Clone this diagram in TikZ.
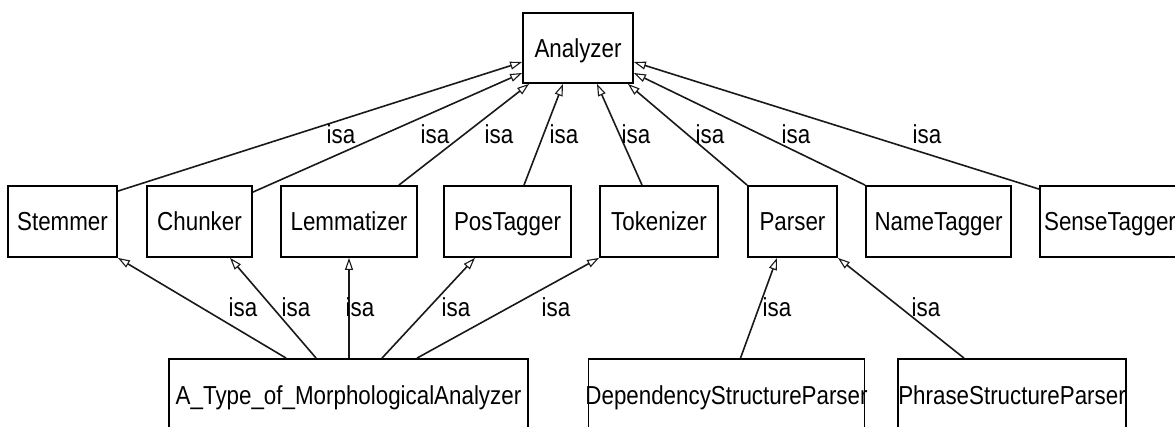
\documentclass[tikz,border=0pt]{standalone}
\usepackage{fontspec}
\setmainfont[FakeStretch=0.86]{Liberation Sans}
\usetikzlibrary{arrows.meta}

\tikzset{
  cls/.style={draw=black, line width=1.8pt, inner sep=0pt, minimum height=71pt,
              text height=19pt, text depth=0pt, font=\fontsize{26}{30}\selectfont},
  isa/.style={draw=black!90, line width=1.6pt,
              -{Triangle[open, length=12pt, width=8pt, line width=1.1pt]}},
  lbl/.style={anchor=base, inner sep=0pt, font=\fontsize{26}{30}\selectfont},
}
\newcommand{\wide}[1]{\makebox[0pt]{#1}}

\begin{document}
\begin{tikzpicture}[x=1pt, y=-1pt]
  \useasboundingbox (0,0) rectangle (1175,427);
  \clip (0,0) rectangle (1175,427);

  % root class
  \node[cls, minimum width=110pt, minimum height=70pt] (an) at (578,48) {Analyzer};

  % direct subclasses
  \node[cls, minimum width=109pt] (stem)   at (62.5,221.5)  {Stemmer};
  \node[cls, minimum width=105pt] (chunk)  at (199.5,221.5) {Chunker};
  \node[cls, minimum width=136pt] (lemma)  at (349,221.5)   {Lemmatizer};
  \node[cls, minimum width=127pt] (pos)    at (507.5,221.5) {PosTagger};
  \node[cls, minimum width=118pt] (tok)    at (659,221.5)   {Tokenizer};
  \node[cls, minimum width=89pt]  (parser) at (792.5,221.5) {Parser};
  \node[cls, minimum width=145pt] (name)   at (938.5,221.5) {NameTagger};
  \node[cls, minimum width=140pt] (sense)  at (1110,221.5)  {\wide{SenseTagger}};

  % second-level subclasses
  \node[cls, minimum width=359pt] (morph)  at (348.5,394.5) {\wide{A\_Type\_of\_MorphologicalAnalyzer}};
  \node[cls, minimum width=276pt] (dep)    at (726.5,394.5) {\wide{DependencyStructureParser}};
  \node[cls, minimum width=228pt] (phrase) at (1012,394.5)  {\wide{PhraseStructureParser}};

  % isa links to Analyzer
  \draw[isa] ([yshift=-6pt]stem.north east)  -- ([yshift=-14pt]an.west);
  \draw[isa] ([yshift=-7pt]chunk.north east) -- ([yshift=-25pt]an.west);
  \draw[isa] ([xshift=-19pt]lemma.north east) -- ([xshift=7pt]an.south west);
  \draw[isa] ([xshift=16.5pt]pos.north)      -- ([xshift=-15pt]an.south);
  \draw[isa] ([xshift=-17pt]tok.north)       -- ([xshift=19pt]an.south);
  \draw[isa] (parser.north west)             -- ([xshift=-6pt]an.south east);
  \draw[isa] (name.north west)               -- ([yshift=-25pt]an.east);
  \draw[isa] ([yshift=-4pt]sense.north west) -- ([yshift=-14pt]an.east);

  % isa links of the second level
  \draw[isa] ([xshift=118pt]morph.north west) -- (stem.south east);
  \draw[isa] ([xshift=148pt]morph.north west) -- ([xshift=30.5pt]chunk.south);
  \draw[isa] ([xshift=0.5pt]morph.north)      -- (lemma.south);
  \draw[isa] ([xshift=33.5pt]morph.north)     -- ([xshift=-32.5pt]pos.south);
  \draw[isa] ([xshift=68.5pt]morph.north)     -- (tok.south west);
  \draw[isa] ([xshift=14pt]dep.north)         -- ([xshift=-15.5pt]parser.south);
  \draw[isa] ([xshift=-48pt]phrase.north)     -- (parser.south east);

  % link labels
  \node[lbl] (l1) at (341,144) {isa};
  \node[lbl] (l2) at (435,144) {isa};
  \node[lbl] (l3) at (499,144) {isa};
  \node[lbl] (l4) at (564,144) {isa};
  \node[lbl] (l5) at (636,144) {isa};
  \node[lbl] (l6) at (710,144) {isa};
  \node[lbl] (l7) at (796,144) {isa};
  \node[lbl] (l8) at (927,144) {isa};
  \node[lbl] (l9)  at (243,317) {isa};
  \node[lbl] (l10) at (296,317) {isa};
  \node[lbl] (l11) at (360,317) {isa};
  \node[lbl] (l12) at (456,317) {isa};
  \node[lbl] (l13) at (556,317) {isa};
  \node[lbl] (l14) at (777,317) {isa};
  \node[lbl] (l15) at (926,317) {isa};
\end{tikzpicture}
\end{document}
